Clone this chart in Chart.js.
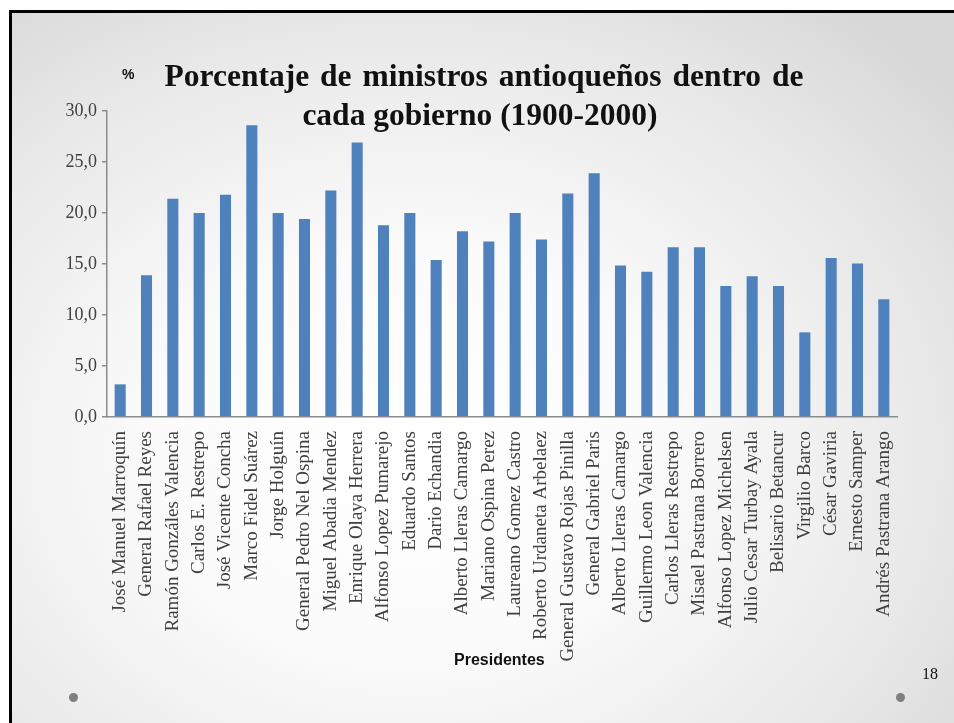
<!DOCTYPE html>
<html>
<head>
<meta charset="utf-8">
<script src="https://cdn.jsdelivr.net/npm/chart.js@4/dist/chart.umd.min.js"></script>
<style>
  html, body { margin: 0; padding: 0; }
  body { width: 954px; height: 723px; position: relative; overflow: hidden; background: #ffffff; }
  #slide { position: absolute; left: 9px; top: 10px; right: 0; bottom: 0;
    border-left: 3px solid #000; border-top: 3px solid #000;
    background: radial-gradient(ellipse 75% 80% at 42% 62%, #ffffff 0%, #fbfbfb 35%, #e8e8e8 75%, #d8d8d8 100%); }
  #wrap { position: absolute; left: 0; top: 0; width: 954px; height: 723px; }
  .t { position: absolute; white-space: nowrap; }
  #title1, #title2 { font-family: "Liberation Serif", serif; font-weight: bold; font-size: 31.5px; color: #111; text-align: center; }
  #title1 { left: 0; width: 968px; top: 58px; word-spacing: 3px; }
  #title2 { left: 0; width: 960px; top: 97px; }
  #pct { font-family: "Liberation Sans", sans-serif; font-weight: bold; font-size: 14px; left: 122px; top: 66px; color: #111; }
  #xtitle { font-family: "Liberation Sans", sans-serif; font-weight: bold; font-size: 16px; left: 454px; top: 651px; color: #111; }
  #page { font-family: "Liberation Serif", serif; font-size: 16px; left: 922px; top: 665px; color: #111; }
  .dot { position: absolute; width: 9px; height: 9px; border-radius: 50%; background: #7f7f7f; }
</style>
</head>
<body>
<div id="slide"></div>
<div class="dot" style="left:69px; top:693px;"></div>
<div class="dot" style="left:896px; top:693px;"></div>
<div id="wrap"><canvas id="c" width="954" height="723"></canvas></div>
<div class="t" id="pct">%</div>
<div class="t" id="title1">Porcentaje de ministros antioqueños dentro de</div>
<div class="t" id="title2">cada gobierno (1900-2000)</div>
<div class="t" id="xtitle">Presidentes</div>
<div class="t" id="page">18</div>
<script>
const presidents = [
  "José Manuel Marroquín", "General Rafael Reyes", "Ramón Gonzáles Valencia",
  "Carlos E. Restrepo", "José Vicente Concha", "Marco Fidel Suárez",
  "Jorge Holguín", "General Pedro Nel Ospina", "Miguel Abadia Mendez",
  "Enrique Olaya Herrera", "Alfonso Lopez Pumarejo", "Eduardo Santos",
  "Dario Echandia", "Alberto Lleras Camargo", "Mariano Ospina Perez",
  "Laureano Gomez Castro", "Roberto Urdaneta Arbelaez", "General Gustavo Rojas Pinilla",
  "General Gabriel Paris", "Alberto Lleras Camargo", "Guillermo Leon Valencia",
  "Carlos Lleras Restrepo", "Misael Pastrana Borrero", "Alfonso Lopez Michelsen",
  "Julio Cesar Turbay Ayala", "Belisario Betancur", "Virgilio Barco",
  "César Gaviria", "Ernesto Samper", "Andrés Pastrana Arango"
];
const percentages = [
  3.2, 13.9, 21.4, 20.0, 21.8, 28.6, 20.0, 19.4, 22.2, 26.9,
  18.8, 20.0, 15.4, 18.2, 17.2, 20.0, 17.4, 21.9, 23.9, 14.85,
  14.25, 16.65, 16.65, 12.85, 13.8, 12.85, 8.3, 15.6, 15.05, 11.55
];
const yMin = 0, yMax = 30, yStep = 5;

const ctx = document.getElementById('c').getContext('2d');
new Chart(ctx, {
  type: 'bar',
  data: {
    labels: presidents,
    datasets: [{
      data: percentages,
      backgroundColor: '#4f81bd',
      borderWidth: 0,
      barPercentage: 0.42,
      categoryPercentage: 1.0
    }]
  },
  options: {
    responsive: false,
    animation: false,
    layout: { padding: { top: 111, left: 0, right: 57, bottom: 0 } },
    plugins: { legend: { display: false }, tooltip: { enabled: false }, title: { display: false } },
    scales: {
      x: {
        grid: { display: false },
        border: { display: true, color: '#8c8c8c', width: 1.5 },
        ticks: {
          minRotation: 90, maxRotation: 90, autoSkip: false, padding: 6,
          color: '#404040',
          font: { family: '"Liberation Serif", serif', size: 19 }
        },
        afterFit(scale) { scale.height = 306; }
      },
      y: {
        min: yMin, max: yMax,
        grid: { drawOnChartArea: false, tickLength: 5, color: '#8c8c8c', lineWidth: 1.5 },
        border: { display: true, color: '#8c8c8c', width: 1.5 },
        ticks: {
          stepSize: yStep, padding: 5, color: '#404040',
          font: { family: '"Liberation Serif", serif', size: 18 },
          callback: (v) => v.toFixed(1).replace('.', ',')
        },
        afterFit(scale) { scale.width = 107; }
      }
    }
  }
});
</script>
</body>
</html>
